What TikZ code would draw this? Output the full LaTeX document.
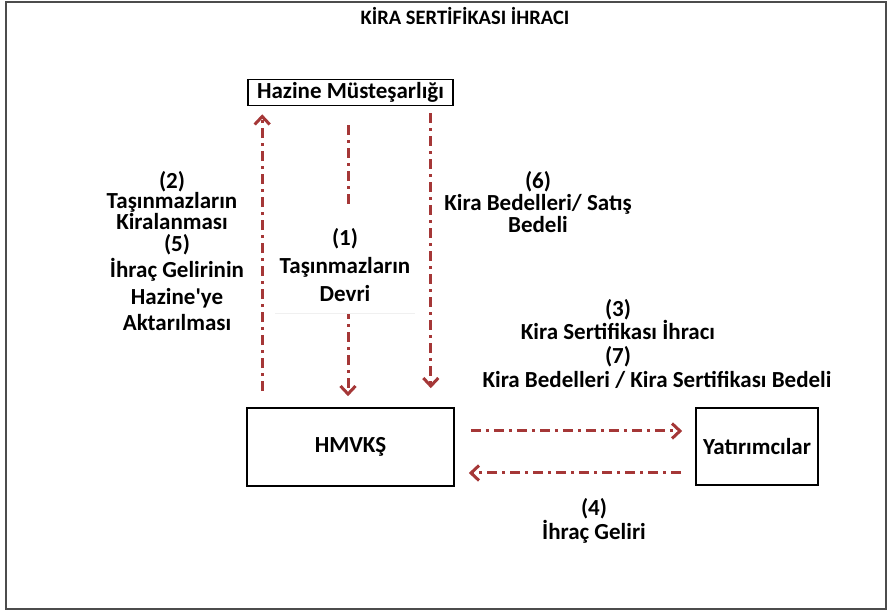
\documentclass[tikz,border=0pt]{standalone}
\usepackage{fontspec}
\setmainfont{Carlito}[Ligatures=TeXOff]
\usetikzlibrary{arrows.meta,calc}
\definecolor{flowred}{RGB}{165,55,55}
\tikzset{
	box/.style = {draw, line width=1.6pt, inner sep=0pt, font=\bfseries\fontsize{23}{24}\selectfont},
	flow/.style = {flowred, line width=3pt, dash pattern=on 10pt off 5pt on 3pt off 5pt,
		-{Straight Barb[length=8pt,width=15pt]}},
	lbl/.style = {align=center, inner sep=0pt, font=\bfseries\fontsize{23}{#1}\selectfont}
}
\begin{document}
\begin{tikzpicture}[x=1pt, y=1pt]
	\useasboundingbox (0,0) rectangle (888,612);
	\draw[line width=2pt, black!70] (6,3) rectangle (886,610);
	\node[align=center, inner sep=0pt, font=\bfseries\fontsize{20.5}{22}\selectfont] (title) at (465,596) {KİRA SERTİFİKASI İHRACI};
	% boxes
	\node[box, minimum width=205pt, minimum height=26pt] (hazine) at (350.5,519.5) {Hazine Müsteşarlığı};
	\node[box, minimum width=207pt, minimum height=78pt] (hmvks) at (350.5,165) {HMVKŞ};
	\node[box, minimum width=122pt, minimum height=77pt] (yatirimci) at (757,165.5) {Yatırımcılar};
	% flows
	\draw[flow] ($(hmvks.north west)+(16,16)$) -- ($(hazine.south west)+(15,-8)$);
	\draw[flow] ($(hazine.south)+(-2.5,-19)$) -- ($(hmvks.north)+(-2.5,11)$);
	\draw[flow] ($(hazine.south east)+(-23,-7)$) -- ($(hmvks.north east)+(-24,19)$);
	\draw[flow] ($(hmvks.east)+(16,16)$) -- ($(yatirimci.west)+(-13,15.5)$);
	\draw[flow] ($(yatirimci.west)+(-14,-26.5)$) -- ($(hmvks.east)+(14,-26)$);
	% labels
	\node[fill=white, minimum width=140pt, minimum height=106pt] (devribg) at (345,352) {};
	\draw[black!6, line width=0.6pt] (devribg.south west) -- (devribg.south east);
	\node[lbl=20] (lbl2) at (172,411) {(2)\\Taşınmazların\\Kiralanması};
	\node[lbl=26.3] (lbl5) at (177,329.5) {(5)\\İhraç Gelirinin\\Hazine'ye\\Aktarılması};
	\node[lbl=28] (lbl1) at (345,347) {(1)\\Taşınmazların\\Devri};
	\node[lbl=22] (lbl6) at (538,410) {(6)\\Kira Bedelleri/ Satış\\Bedeli};
	\node[lbl=23.5] (lbl3) at (618,279) {(3)\\Kira Sertifikası İhracı\\(7)};
	\node[lbl=22] (lbl7) at (657,232) {Kira Bedelleri / Kira Sertifikası Bedeli};
	\node[lbl=22] (lbl4) at (594,91) {(4)\\İhraç Geliri};
\end{tikzpicture}
\end{document}
